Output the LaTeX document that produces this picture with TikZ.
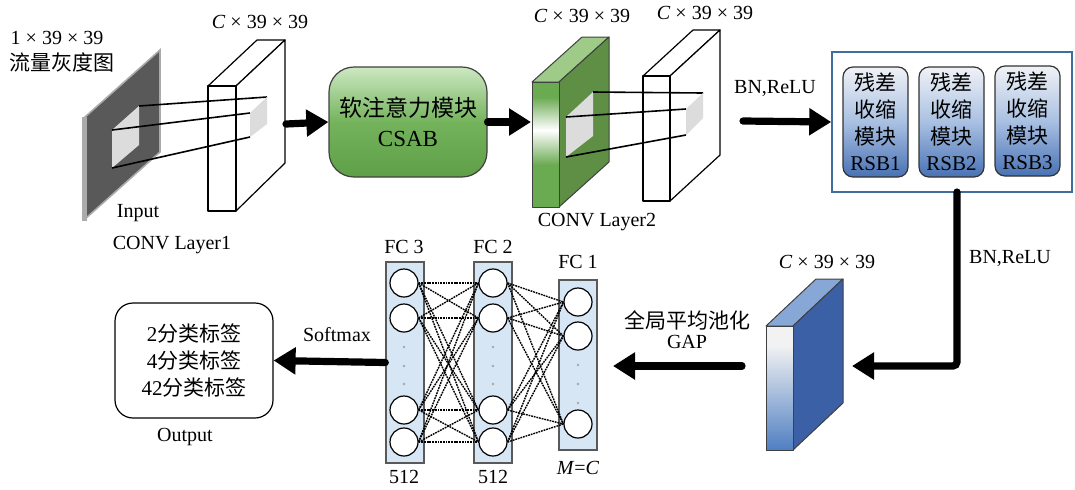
\documentclass[tikz,border=0pt]{standalone}
\usepackage{fontspec}
\setmainfont{Liberation Serif}
\newfontfamily\cjk{Noto Sans CJK SC}
\newfontfamily\lat{Liberation Serif}
\usetikzlibrary{arrows.meta,shapes.geometric}
\definecolor{fcblue}{HTML}{D6E6F4}
\definecolor{gside}{HTML}{5E8F45}
\definecolor{gtop}{HTML}{9ECB88}
\definecolor{gfront}{HTML}{6AAA50}
\definecolor{bside}{HTML}{3B60A5}
\definecolor{btop}{HTML}{87A7D7}
\definecolor{bfront}{HTML}{4F7FC2}
\definecolor{rsbtop}{HTML}{F0F2F6}
\definecolor{rsbmid}{HTML}{A9C0E2}
\definecolor{rsbbot}{HTML}{4872B4}
\definecolor{frame}{HTML}{3F6E9E}
\definecolor{inputdark}{HTML}{595959}
\definecolor{inputedge}{HTML}{ABABAB}
\definecolor{patch}{HTML}{DCDCDC}
\definecolor{csabtop}{HTML}{CDE8C2}
\definecolor{csabmid}{HTML}{74B35C}
\definecolor{csabbot}{HTML}{5E9F47}
\tikzset{
  lbl/.style={font=\fontsize{10}{12}\selectfont, inner sep=0pt},
  bigarrow/.style={line width=3.6pt, line cap=round, -{Triangle[length=11pt,width=13pt]}},
  face/.style={draw=black, line width=0.6pt, line join=round},
  gface/.style={draw=black!75, line width=0.5pt, line join=round},
  rsb/.style={draw=black!80, line width=0.6pt, rounded corners=5pt, top color=rsbtop, bottom color=rsbbot, middle color=rsbmid,
    minimum width=32.5pt, minimum height=55pt, inner sep=0pt, align=center,
    font=\fontsize{10.5}{13.3}\selectfont},
  fccol/.style={draw=black!65, fill=fcblue, line width=0.7pt, minimum width=19pt, inner sep=0pt},
  neuron/.style={circle, draw=black, fill=white, line width=0.6pt, minimum size=14pt, inner sep=0pt},
  dotg/.style={circle, fill=black!35, minimum size=1.3pt, inner sep=0pt},
  conn/.style={dash pattern=on 0.9pt off 0.45pt, line width=0.7pt},
}
\begin{document}
\begin{tikzpicture}[x=0.5pt,y=-0.5pt]
\useasboundingbox (0,0) rectangle (1075,489);

% ---------- input plane ----------
\filldraw[fill=inputdark, draw=inputedge, line width=0.8pt] (85,117) -- (160,50) -- (160,152) -- (85,219) -- cycle;
\fill[inputedge] (82,117) rectangle (87,221);
\coordinate (ip1) at (112,130);
\coordinate (ip2) at (139,106);
\coordinate (ip3) at (139,145);
\coordinate (ip4) at (112,168);
\fill[patch] (ip1) -- (ip2) -- (ip3) -- (ip4) -- cycle;
\node[lbl] (t1) at (57,38) {1 × 39 × 39};
\node[lbl,font=\cjk\fontsize{10.5}{12}\selectfont] (t2) at (62,62) {流量灰度图};
\node[lbl] (t3) at (138,213) {Input};
\node[lbl] (t4) at (172,245) {CONV Layer1};

% ---------- conv layer 1 box ----------
\filldraw[face, fill=white] (208,86) -- (257,40) -- (285,40) -- (236,86) -- cycle;
\filldraw[face, fill=white] (236,86) -- (285,40) -- (285,163) -- (236,211) -- cycle;
\filldraw[face, fill=white] (208,86) rectangle (236,211);
\coordinate (sp1) at (250,113);
\coordinate (sp2) at (267,97);
\coordinate (sp3) at (267,124);
\coordinate (sp4) at (250,137);
\draw[line width=0.8pt] (ip2) -- (sp2);
\draw[line width=0.8pt] (ip1) -- (sp1);
\draw[line width=0.8pt] (ip4) -- (sp4);
\fill[patch] (sp1) -- (sp2) -- (sp3) -- (sp4) -- cycle;
\node[lbl] (t5) at (260,22) {\textit{C} × 39 × 39};
\coordinate (c1out) at (286,124);

% ---------- CSAB ----------
\node[draw=black!75, line width=0.6pt, rounded corners=12.5pt, minimum width=79pt, minimum height=55pt,
  top color=csabtop, bottom color=csabbot, middle color=csabmid, align=center,
  font=\fontsize{11.5}{15}\selectfont] (csab) at (408,122) {{\cjk 软注意力模块}\\{\lat CSAB}};
\draw[bigarrow] (c1out) -- (csab.west);
\coordinate (c2in) at (531,122);
\draw[bigarrow] (csab.east) -- (c2in);

% ---------- conv layer 2 (green) ----------
\filldraw[gface, fill=gtop] (532,82) -- (582,37) -- (609,37) -- (559,82) -- cycle;
\filldraw[gface, fill=gside] (559,82) -- (609,37) -- (609,162) -- (559,207) -- cycle;
\fill[gfront] (532,82) rectangle (559,97);
\shade[top color=gfront, bottom color=white] (532,97) rectangle (559,130);
\shade[top color=white, bottom color=gfront] (532,130) rectangle (559,165);
\fill[gfront] (532,165) rectangle (559,207);
\draw[gface] (532,82) rectangle (559,207);
\coordinate (gp1) at (566,117);
\coordinate (gp2) at (593,92);
\coordinate (gp3) at (593,136);
\coordinate (gp4) at (566,157);
\fill[patch] (gp1) -- (gp2) -- (gp3) -- (gp4) -- cycle;
\node[lbl] (t6) at (582,16) {\textit{C} × 39 × 39};
\node[lbl] (t7) at (597,222) {CONV Layer2};

% ---------- white box 2 ----------
\filldraw[face, fill=white] (643,76) -- (693,30) -- (720,30) -- (670,76) -- cycle;
\filldraw[face, fill=white] (670,76) -- (720,30) -- (720,155) -- (670,201) -- cycle;
\filldraw[face, fill=white] (643,76) rectangle (670,201);
\coordinate (wp1) at (686,109);
\coordinate (wp2) at (703,93);
\coordinate (wp3) at (703,118);
\coordinate (wp4) at (686,135);
\draw[line width=0.8pt] (gp2) -- (wp2);
\draw[line width=0.8pt] (gp1) -- (wp1);
\draw[line width=0.8pt] (gp4) -- (wp4);
\fill[patch] (wp1) -- (wp2) -- (wp3) -- (wp4) -- cycle;
\node[lbl] (t8) at (705,13) {\textit{C} × 39 × 39};
\coordinate (w2out) at (743,121);

% ---------- RSB frame ----------
\node[draw=frame, line width=0.8pt, fill=white, minimum width=120pt, minimum height=70pt, inner sep=0pt] (frame) at (952,122) {};
\node[rsb] (rsb1) at (875.5,122) {{\cjk 残差}\\{\cjk 收缩}\\{\cjk 模块}\\{\lat RSB1}};
\node[rsb] (rsb2) at (951.5,122) {{\cjk 残差}\\{\cjk 收缩}\\{\cjk 模块}\\{\lat RSB2}};
\node[rsb] (rsb3) at (1027.5,121) {{\cjk 残差}\\{\cjk 收缩}\\{\cjk 模块}\\{\lat RSB3}};
\draw[bigarrow] (w2out) -- (frame.west);
\node[lbl] (t9) at (775,88) {BN,ReLU};

% ---------- blue block ----------
\filldraw[gface, fill=btop] (766,326) -- (816,279) -- (843,279) -- (793,326) -- cycle;
\filldraw[gface, fill=bside] (793,326) -- (843,279) -- (843,403) -- (793,450) -- cycle;
\fill[white!95!black] (766,326) rectangle (793,345);
\shade[top color=white!95!black, bottom color=bfront] (766,345) rectangle (793,450);
\draw[gface] (766,326) rectangle (793,450);
\node[lbl] (t10) at (827,262) {\textit{C} × 39 × 39};
\coordinate (rsbout) at (957,192);
\coordinate (bin) at (852,366);
\draw[bigarrow, rounded corners=2pt] (rsbout) |- (bin);
\node[lbl] (t11) at (1010,258) {BN,ReLU};

% ---------- GAP ----------
\coordinate (bout) at (742,366);
\coordinate (gapin) at (613,366);
\draw[bigarrow] (bout) -- (gapin);
\node[lbl,font=\cjk\fontsize{10.5}{12}\selectfont] (t12) at (687,320) {全局平均池化};
\node[lbl] (t13) at (687,342) {GAP};

% ---------- FC layers ----------
\node[fccol, minimum height=100.5pt] (fc3) at (405,362.5) {};
\node[fccol, minimum height=100.5pt] (fc2) at (493,362.5) {};
\node[fccol, minimum height=85pt] (fc1) at (578,365) {};
\foreach \n/\y in {a/283,b/318,c/410,d/442}{
  \node[neuron] (f3\n) at (404,\y) {};
  \node[neuron] (f2\n) at (493,\y) {};
}
\foreach \n/\y in {a/302,b/336,c/424}{
  \node[neuron] (f1\n) at (578,\y) {};
}
\foreach \y [count=\i] in {347,366,384}{
  \node[dotg] (d3\i) at (404,\y) {};
  \node[dotg] (d2\i) at (493,\y) {};
}
\foreach \y [count=\i] in {365,384,403}{
  \node[dotg] (d1\i) at (578,\y) {};
}
\foreach \s in {a,b,c,d}{
  \foreach \t in {a,b,c,d}{
    \draw[conn] (f3\s.east) -- (f2\t.west);
  }
  \foreach \t in {a,b,c}{
    \draw[conn] (f2\s.east) -- (f1\t.west);
  }
}
\node[lbl] (t14) at (404,247) {FC 3};
\node[lbl] (t15) at (493,247) {FC 2};
\node[lbl] (t16) at (578,262) {FC 1};
\node[lbl] (t17) at (404,477) {512};
\node[lbl] (t18) at (493,477) {512};
\node[lbl] (t19) at (578,468) {\textit{M}=\textit{C}};

% ---------- output ----------
\node[draw=black, line width=0.6pt, rounded corners=9pt, minimum width=79pt, minimum height=57.5pt,
  align=center, inner sep=0pt, font=\fontsize{10.5}{13.5}\selectfont] (out) at (194,360.5)
  {{\lat 2}{\cjk 分类标签}\\{\lat 4}{\cjk 分类标签}\\{\lat 42}{\cjk 分类标签}};
\draw[bigarrow] (fc3.west) -- (out.east);
\node[lbl] (t20) at (337,335) {Softmax};
\node[lbl] (t21) at (185,437) {Output};
\end{tikzpicture}
\end{document}
